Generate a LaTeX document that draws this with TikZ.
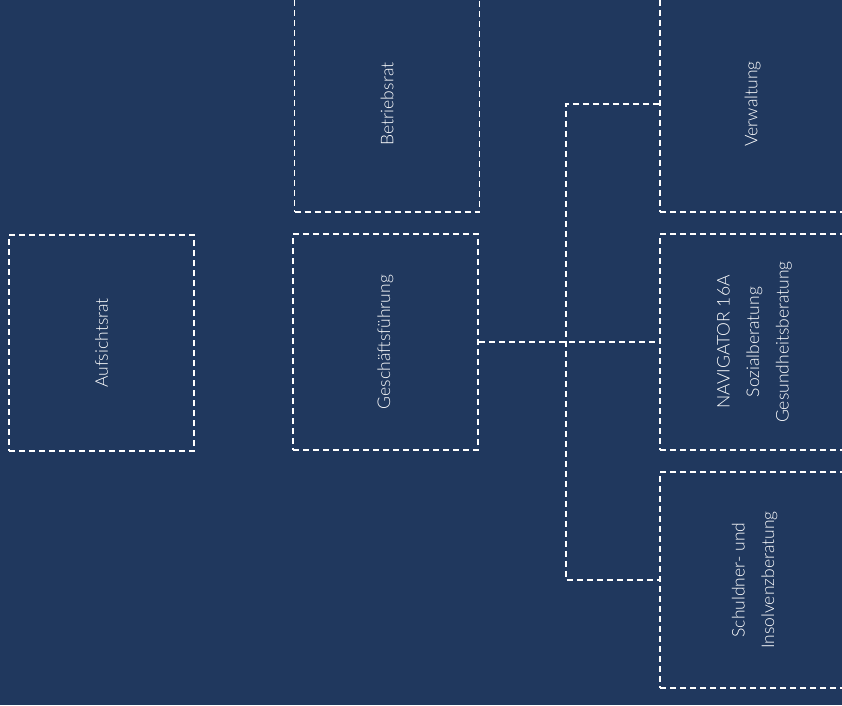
\documentclass[tikz,border=0pt]{standalone}
\usepackage{fontspec}
\setmainfont{Lato}[UprightFont={* Light}]
\definecolor{bgblue}{RGB}{32,56,94}
\begin{document}
\begin{tikzpicture}[x=1pt,y=-1pt,
  dline/.style={draw=white,line width=1.5pt,dash pattern=on 6pt off 4pt},
  orgbox/.style={dline,rectangle,inner sep=0pt,minimum width=185pt,minimum height=216pt},
  orgtext/.style={text=white,rotate=90,align=center,font=\fontsize{17.5}{29.5}\selectfont,inner sep=0pt}]
\fill[bgblue] (0,0) rectangle (842,705);
\useasboundingbox (0,0) rectangle (842,705);
% boxes
\node[orgbox] (auf) at (101.5,343) {};
\node[orgbox] (br) at (387,104) {};
\node[orgbox] (gf) at (385.5,342) {};
\node[orgbox] (verw) at (752.5,104) {};
\node[orgbox] (nav) at (752.5,342) {};
\node[orgbox] (sch) at (752.5,580) {};
% texts
\node[orgtext] (tauf) at (auf.center) {Aufsichtsrat};
\node[orgtext] (tbr) at (br.center) {Betriebsrat};
\node[orgtext] (tgf) at (gf.center) {Geschäftsführung};
\node[orgtext] (tverw) at (verw.center) {Verwaltung};
\node[orgtext] (tnav) at ([xshift=2pt]nav.center) {NAVIGATOR 16A\\Sozialberatung\\Gesundheitsberatung};
\node[orgtext] (tsch) at ([xshift=2pt]sch.center) {Schuldner- und\\Insolvenzberatung};
% connectors
\coordinate (jt) at (566,104);
\coordinate (jb) at (566,580);
\draw[dline] (gf.east) -- (nav.west);
\draw[dline] (verw.west) -- (jt) -- (jb) -- (sch.west);
\end{tikzpicture}
\end{document}
